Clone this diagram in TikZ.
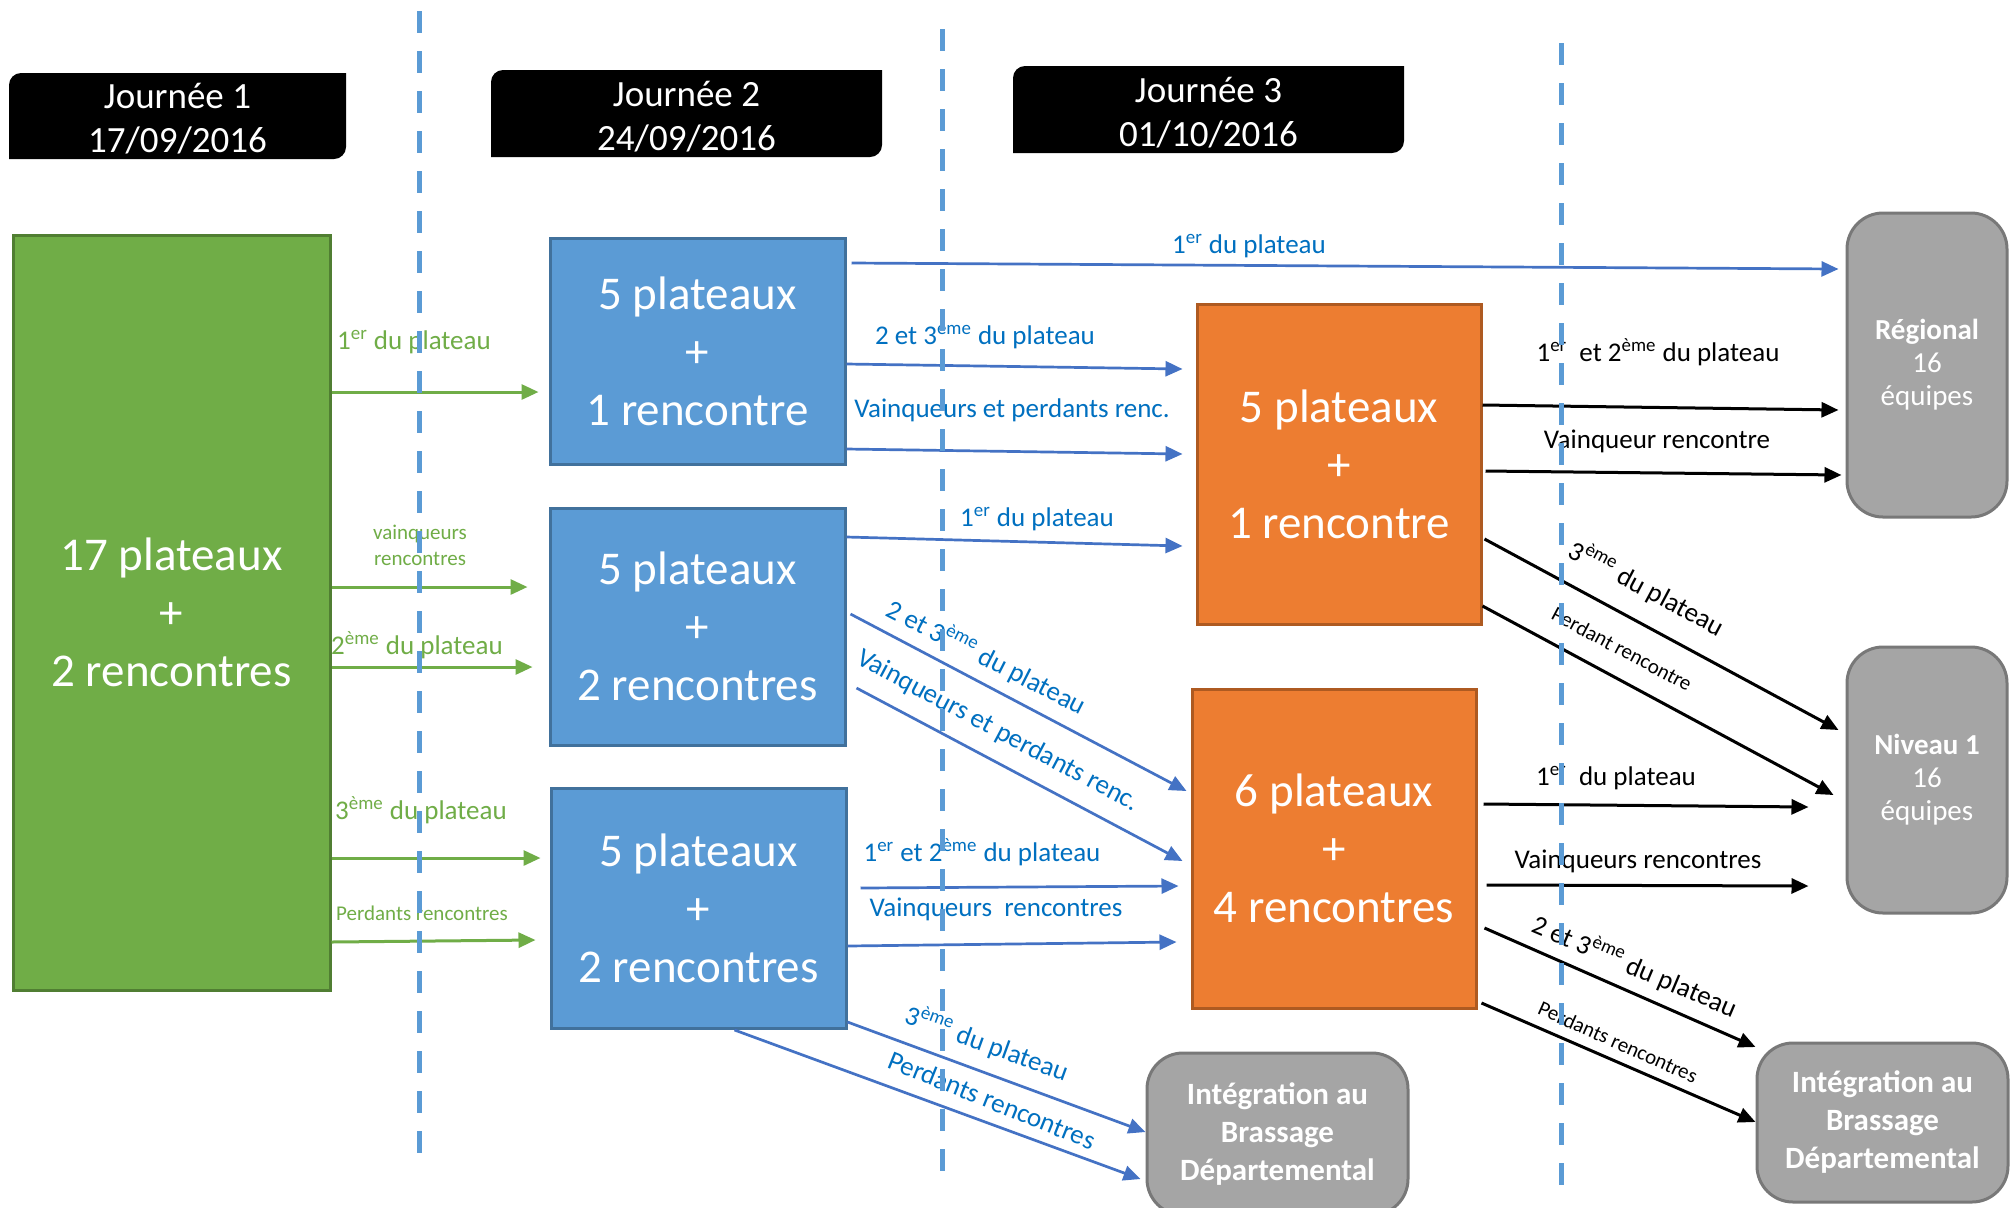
\documentclass[tikz,border=0pt]{standalone}
\usepackage{fontspec}
\setmainfont{Carlito}
\usetikzlibrary{arrows.meta,backgrounds}
\definecolor{vert}{HTML}{70AD47}
\definecolor{vertfonce}{HTML}{507E32}
\definecolor{bleu}{HTML}{5B9BD5}
\definecolor{bleufonce}{HTML}{41719C}
\definecolor{orange}{HTML}{ED7D31}
\definecolor{orangefonce}{HTML}{AE5A21}
\definecolor{gris}{HTML}{A5A5A5}
\definecolor{grisfonce}{HTML}{787878}
\definecolor{fleche}{HTML}{4472C4}
\definecolor{texte}{HTML}{0070C0}
\tikzset{
  bloc/.style={draw, line width=1.5pt, text=white, align=center, inner sep=0pt,
    font=\fontsize{23.5}{29}\selectfont},
  niveau/.style={draw=grisfonce, fill=gris, line width=1.5pt, rounded corners=18pt,
    text=white, align=center, inner sep=0pt},
  titre/.style={text=white, align=center, inner sep=0pt, font=\fontsize{18.5}{22}\selectfont},
  lbl/.style={inner sep=0pt, font=\fontsize{13.5}{16}\selectfont},
  slbl/.style={inner sep=0pt, font=\fontsize{10.5}{13}\selectfont},
  garrow/.style={draw=vert, line width=1.5pt, -{Triangle[length=8.5pt,width=7.5pt]}},
  barrow/.style={draw=fleche, line width=1.35pt, -{Triangle[length=8.5pt,width=7.5pt]}},
  karrow/.style={draw=black, line width=1.5pt, -{Triangle[length=8.5pt,width=7.5pt]}},
  separ/.style={draw=bleu, line width=2.5pt, dash pattern=on 11pt off 9pt}
}
\begin{document}
\begin{tikzpicture}[x=0.5pt,y=-0.5pt]
\useasboundingbox (0,0) rectangle (2010,1207);

\node[titre] (j1) at (177.5,119) {Journée 1\\17/09/2016};
\node[titre] (j2) at (686.5,116.5) {Journée 2\\24/09/2016};
\node[titre] (j3) at (1208.5,112.5) {Journée 3\\01/10/2016};
\path (j1) ++(-84.25pt,-20pt) coordinate (j1sw) ++(168.5pt,43pt) coordinate (j1ne);
\path (j2) ++(-97.75pt,-20.25pt) coordinate (j2sw) ++(195.5pt,43.5pt) coordinate (j2ne);
\path (j3) ++(-97.75pt,-20.25pt) coordinate (j3sw) ++(195.5pt,43.5pt) coordinate (j3ne);
\begin{scope}[on background layer]
\fill[white] (0,0) rectangle (2010,1207);
\foreach \j in {j1,j2,j3}
  \fill (\j ne) -- ([yshift=6pt]\j ne |- \j sw) arc[start angle=0,end angle=-90,radius=6pt]
    -- (\j sw) -- ([yshift=-6pt]\j sw |- \j ne) arc[start angle=180,end angle=90,radius=6pt]
    -- cycle;
\end{scope}

\node[bloc, fill=vert, draw=vertfonce, minimum width=158.5pt, minimum height=377.5pt]
  (g) at (171.5,612.5) {17 plateaux\\+\\2 rencontres};
\node[bloc, fill=bleu, draw=bleufonce, minimum width=147.5pt, minimum height=113pt]
  (b1) at (697.5,351) {5 plateaux\\+\\1 rencontre};
\node[bloc, fill=bleu, draw=bleufonce, minimum width=147.5pt, minimum height=118.5pt]
  (b2) at (697.5,626.5) {5 plateaux\\+\\2 rencontres};
\node[bloc, fill=bleu, draw=bleufonce, minimum width=147.5pt, minimum height=120pt]
  (b3) at (698.5,908.5) {5 plateaux\\+\\2 rencontres};
\node[bloc, fill=orange, draw=orangefonce, minimum width=142pt, minimum height=160pt]
  (o1) at (1339,464) {5 plateaux\\+\\1 rencontre};
\node[bloc, fill=orange, draw=orangefonce, minimum width=142pt, minimum height=159.5pt]
  (o2) at (1334,848.5) {6 plateaux\\+\\4 rencontres};
\node[niveau, minimum width=80pt, minimum height=152pt, font=\fontsize{14.5}{16.5}\selectfont]
  (reg) at (1927,365) {\textbf{Régional}\\16\\équipes};
\node[niveau, minimum width=80pt, minimum height=133pt, font=\fontsize{14.5}{16.5}\selectfont]
  (niv) at (1927,780) {\textbf{Niveau 1}\\16\\équipes};
\node[niveau, minimum width=130.5pt, minimum height=81pt, font=\bfseries\fontsize{15.5}{19}\selectfont]
  (int1) at (1277.5,1134) {Intégration au\\Brassage\\Départemental};
\node[niveau, minimum width=125.5pt, minimum height=79.5pt, font=\bfseries\fontsize{15.5}{19}\selectfont]
  (int2) at (1882.5,1122.5) {Intégration au\\Brassage\\Départemental};

\draw[garrow] (g.east |- 0,392) -- ([xshift=-5pt]b1.west |- 0,392);
\draw[garrow] (g.east |- 0,587) -- ([xshift=-10.5pt]b2.west |- 0,587);
\draw[garrow] (g.east |- 0,667) -- ([xshift=-8pt]b2.west |- 0,667);
\draw[garrow] (g.east |- 0,858) -- ([xshift=-4.5pt]b3.west |- 0,858);
\draw[garrow] (g.east |- 0,942) -- ([xshift=-7pt]b3.west |- 0,940);
\node[lbl, text=vert] (gl1) at (414,342) {1\textsuperscript{er} du plateau};
\node[slbl, text=vert, align=center] (gl2) at (420,545) {vainqueurs\\rencontres};
\node[lbl, text=vert] (gl3) at (417,645) {2\textsuperscript{ème} du plateau};
\node[lbl, text=vert] (gl4) at (421,810) {3\textsuperscript{ème} du plateau};
\node[slbl, text=vert] (gl5) at (422,913) {Perdants rencontres};

\draw[barrow] ([xshift=2.5pt]b1.east |- 0,263) -- ([xshift=-3.5pt]reg.west |- 0,269);
\draw[barrow] (b1.east |- 0,364) -- ([xshift=-6.5pt]o1.west |- 0,369);
\draw[barrow] (b1.east |- 0,449) -- ([xshift=-6.5pt]o1.west |- 0,454);
\draw[barrow] (b2.east |- 0,537) -- ([xshift=-6.5pt]o1.west |- 0,546);
\draw[barrow] ([xshift=2pt]b2.east |- 0,614) -- ([xshift=-2pt]o2.west |- 0,791);
\draw[barrow] ([xshift=5pt]b2.east |- 0,688) -- ([xshift=-4pt]o2.west |- 0,861);
\draw[barrow] ([xshift=6.5pt]b3.east |- 0,888) -- ([xshift=-6pt]o2.west |- 0,886);
\draw[barrow] (b3.east |- 0,946) -- ([xshift=-7pt]o2.west |- 0,942);
\draw[barrow] (b3.east |- 0,1022) -- (int1.west |- 0,1132);
\draw[barrow] ([xshift=18pt]b3.south) -- ([xshift=-2.5pt]int1.west |- 0,1179);
\node[lbl, text=texte] (bl1) at (1249,246) {1\textsuperscript{er} du plateau};
\node[lbl, text=texte] (bl2) at (985,335) {2 et 3\textsuperscript{ème} du plateau};
\node[lbl, text=texte] (bl3) at (1012,410) {Vainqueurs et perdants renc.};
\node[lbl, text=texte] (bl4) at (1037,519) {1\textsuperscript{er} du plateau};
\node[lbl, text=texte, rotate=-27] (bl5) at (987,657) {2 et 3\textsuperscript{ème} du plateau};
\node[lbl, text=texte, rotate=-28] (bl6) at (998,731) {Vainqueurs et perdants renc.};
\node[lbl, text=texte] (bl7) at (982,852) {1\textsuperscript{er} et 2\textsuperscript{ème} du plateau};
\node[lbl, text=texte] (bl8) at (996,909) {Vainqueurs\ \ rencontres};
\node[lbl, text=texte, rotate=-20] (bl9) at (987,1043) {3\textsuperscript{ème} du plateau};
\node[lbl, text=texte, rotate=-22] (bl10) at (992,1100) {Perdants rencontres};

\draw[karrow] (o1.east |- 0,405) -- ([xshift=-3.5pt]reg.west |- 0,410);
\draw[karrow] ([xshift=1.5pt]o1.east |- 0,471) -- ([xshift=-2pt]reg.west |- 0,475);
\draw[karrow] ([xshift=1pt]o1.east |- 0,539) -- ([xshift=-3.5pt]niv.west |- 0,730);
\draw[karrow] (o1.east |- 0,606) -- ([xshift=-6pt]niv.west |- 0,795);
\draw[karrow] ([xshift=3pt]o2.east |- 0,804) -- ([xshift=-18.5pt]niv.west |- 0,807);
\draw[karrow] ([xshift=4.5pt]o2.east |- 0,885) -- ([xshift=-18.5pt]niv.west |- 0,886);
\draw[karrow] ([xshift=3.5pt]o2.east |- 0,928) -- (int2.west |- 0,1047);
\draw[karrow] ([xshift=2pt]o2.east |- 0,1003) -- (int2.west |- 0,1122);
\node[lbl] (kl1) at (1658,352) {1\textsuperscript{er}\ \ et 2\textsuperscript{ème} du plateau};
\node[lbl] (kl2) at (1657,441) {Vainqueur rencontre};
\node[lbl, rotate=-28] (kl3) at (1647,588) {3\textsuperscript{ème} du plateau};
\node[slbl, rotate=-28] (kl4) at (1622,649) {Perdant rencontre};
\node[lbl] (kl5) at (1616,778) {1\textsuperscript{er}\ \ du plateau};
\node[lbl] (kl6) at (1638,861) {Vainqueurs rencontres};
\node[lbl, rotate=-23] (kl7) at (1635,966) {2 et 3\textsuperscript{ème} du plateau};
\node[slbl, rotate=-24] (kl8) at (1618,1042) {Perdants rencontres};

\draw[separ] (419,11) -- (419,1164);
\draw[separ] (942,29) -- (942,1181);
\draw[separ] (1561,43) -- (1561,1194);
\end{tikzpicture}
\end{document}
